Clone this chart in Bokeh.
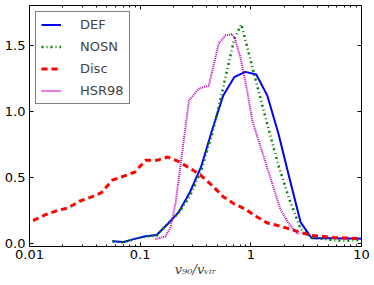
from bokeh.plotting import figure
from bokeh.models import (LinearAxis, LogAxis, FixedTicker, CustomJSTickFormatter,
                          PrintfTickFormatter, Range1d)
from bokeh.embed import file_html
from bokeh.resources import INLINE

# ---- data ----
bin_x = [0.056, 0.071, 0.089, 0.112, 0.141, 0.178, 0.224, 0.282, 0.355, 0.447,
         0.562, 0.708, 0.891, 1.12, 1.41, 1.78, 2.24, 2.82, 3.55, 4.47, 5.62,
         7.08, 8.91, 11.2]
def_y = [0.017, 0.012, 0.035, 0.055, 0.065, 0.15, 0.24, 0.39, 0.58, 0.86,
         1.12, 1.26, 1.30, 1.28, 1.12, 0.83, 0.49, 0.16, 0.04, 0.04, 0.04,
         0.037, 0.037, 0.036]

nosn_x = [0.056, 0.071, 0.089, 0.112, 0.141, 0.178, 0.224, 0.282, 0.355, 0.447,
          0.562, 0.708, 0.82, 1.12, 1.41, 1.78, 2.24, 2.82, 3.55, 4.47, 5.62,
          7.08, 8.91, 11.2]
nosn_y = [0.017, 0.008, 0.034, 0.053, 0.06, 0.15, 0.235, 0.36, 0.55, 0.83,
          1.18, 1.55, 1.66, 1.22, 0.90, 0.59, 0.33, 0.11, 0.045, 0.035, 0.025,
          0.02, 0.027, 0.027]

disc_x = [0.0089, 0.0112, 0.0141, 0.0178, 0.0224, 0.0282, 0.0355, 0.0447,
          0.056, 0.071, 0.089, 0.112, 0.141, 0.178, 0.224, 0.282, 0.355, 0.447,
          0.562, 0.708, 0.891, 1.12, 1.41, 1.78, 2.24, 2.82, 3.55, 4.47, 5.62,
          7.08, 8.91, 11.2]
disc_y = [0.145, 0.18, 0.22, 0.25, 0.27, 0.32, 0.35, 0.385, 0.48, 0.51, 0.54,
          0.63, 0.63, 0.655, 0.62, 0.57, 0.515, 0.44, 0.355, 0.30, 0.26, 0.205,
          0.155, 0.135, 0.11, 0.083, 0.06, 0.053, 0.045, 0.042, 0.038, 0.034]

hsr_x = [0.1375, 0.169, 0.188, 0.2085, 0.276, 0.338, 0.417, 0.513, 0.590,
         0.678, 0.726, 0.806, 0.926, 1.03, 1.85, 2.14, 2.43, 2.69]
hsr_y = [0.034, 0.053, 0.121, 0.303, 1.083, 1.172, 1.197, 1.515, 1.576,
         1.587, 1.538, 1.409, 1.159, 0.932, 0.258, 0.167, 0.106, 0.068]

x_major = [0.01, 0.1, 1, 10]
y_major = [0.0, 0.5, 1.0, 1.5]
x_label = "v₉₀/vᵥᵢᵣ"

FONT = "DejaVu Sans"

x_minor = [m * d for d in (0.01, 0.1, 1) for m in range(2, 10)]

p = figure(width=374, height=285, x_axis_type="log",
           x_range=Range1d(0.01, 10), y_range=Range1d(-0.0227, 1.803),
           output_backend="svg", toolbar_location=None,
           min_border_left=29, min_border_right=13, min_border_top=5,
           min_border_bottom=39)
p.background_fill_color = "white"
p.border_fill_color = "white"
p.outline_line_color = "black"
p.outline_line_width = 1
p.xgrid.visible = False
p.ygrid.visible = False

p.line(bin_x, def_y, line_color="#0000ff", line_width=2, legend_label="DEF")
p.line(nosn_x, nosn_y, line_color="#008000", line_width=2.5,
       line_dash="2 3 1 3", legend_label="NOSN")
p.line(disc_x, disc_y, line_color="#ff0000", line_width=3,
       line_dash="6 4", legend_label="Disc")
p.line(hsr_x, hsr_y, line_color="#bf00bf", line_width=2,
       line_dash="1 1", legend_label="HSR98")

xt = FixedTicker(ticks=x_major, minor_ticks=x_minor)
yt = FixedTicker(ticks=y_major, minor_ticks=[])

def style_axis(ax):
    ax.axis_line_color = None
    ax.major_tick_in = 4
    ax.major_tick_out = 0
    ax.minor_tick_in = 2
    ax.minor_tick_out = 0
    ax.major_tick_line_color = "black"
    ax.minor_tick_line_color = "black"
    ax.major_label_text_font = FONT
    ax.major_label_text_font_size = "13px"
    ax.major_label_text_color = "black"

xa = p.xaxis[0]
xa.ticker = xt
xa.formatter = CustomJSTickFormatter(code="return String(tick);")
style_axis(xa)
xa.major_label_standoff = 3
xa.axis_label = x_label
xa.axis_label_text_font = "DejaVu Serif"
xa.axis_label_text_font_style = "italic"
xa.axis_label_text_font_size = "13px"
xa.axis_label_standoff = 0

ya = p.yaxis[0]
ya.ticker = yt
ya.formatter = PrintfTickFormatter(format="%.1f")
style_axis(ya)
ya.major_label_standoff = 4

top = LogAxis(ticker=xt)
style_axis(top)
top.major_label_text_font_size = "1px"
top.major_label_text_alpha = 0
top.major_label_standoff = 0
p.add_layout(top, "above")

right = LinearAxis(ticker=yt)
style_axis(right)
right.major_label_text_font_size = "1px"
right.major_label_text_alpha = 0
right.major_label_standoff = 0
p.add_layout(right, "right")

lg = p.legend[0]
lg.location = "top_left"
lg.margin = 6
lg.padding = 5
lg.spacing = 7
lg.glyph_width = 20
lg.glyph_height = 13
lg.label_height = 13
lg.label_standoff = 19
lg.label_text_font = FONT
lg.label_text_font_size = "13px"
lg.border_line_color = "black"
lg.border_line_width = 1
lg.background_fill_color = "white"
lg.background_fill_alpha = 1

open("out.html", "w").write(file_html(p, INLINE))
